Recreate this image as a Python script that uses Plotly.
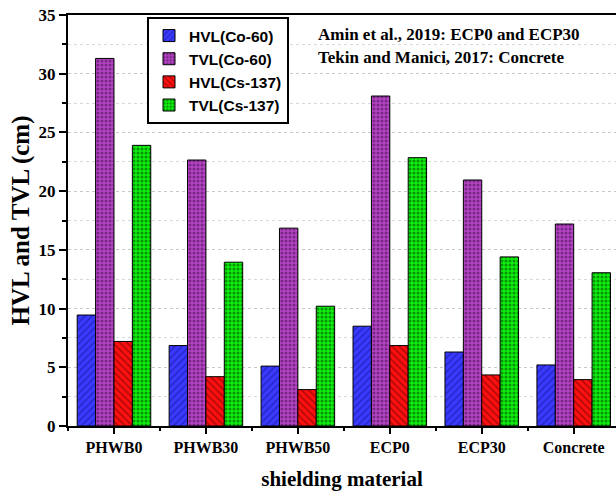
import plotly.graph_objects as go

categories = ["PHWB0", "PHWB30", "PHWB50", "ECP0", "ECP30", "Concrete"]
hvl_co60 = [9.45, 6.85, 5.1, 8.5, 6.3, 5.2]
tvl_co60 = [31.3, 22.65, 16.85, 28.1, 20.95, 17.2]
hvl_cs137 = [7.2, 4.2, 3.1, 6.85, 4.35, 3.95]
tvl_cs137 = [23.9, 13.95, 10.2, 22.85, 14.4, 13.05]
series_names = ["HVL(Co-60)", "TVL(Co-60)", "HVL(Cs-137)", "TVL(Cs-137)"]
y_ticks = [0, 5, 10, 15, 20, 25, 30, 35]

styles = [
    dict(bg="#3a3aff", fg="#12128a", shape="/", size=5, sol=0.3),
    dict(bg="#b444c4", fg="#3c0a44", shape=".", size=4, sol=0.45),
    dict(bg="#ff1010", fg="#5a0000", shape="\\", size=5, sol=0.3),
    dict(bg="#10f010", fg="#003300", shape=".", size=4, sol=0.45),
]

# plot area target: left 68, top 15, bottom 426 (page body margin removed)
W, H = 616, 495
L, T, B = 68, 15, 495 - 426
PW = W - L
PH = H - T - B

xs = list(range(len(categories)))
fig = go.Figure()
for name, vals, st in zip(series_names, [hvl_co60, tvl_co60, hvl_cs137, tvl_cs137], styles):
    fig.add_trace(go.Bar(
        x=xs, y=vals, name=name,
        marker=dict(color=st["bg"], line=dict(color="black", width=1),
                    pattern=dict(shape=st["shape"], fgcolor=st["fg"], bgcolor=st["bg"],
                                 size=st["size"], solidity=st["sol"], fillmode="overlay")),
    ))

fig.update_layout(
    width=W, height=H,
    margin=dict(l=L, r=0, t=T, b=B, autoexpand=False),
    paper_bgcolor="white", plot_bgcolor="white",
    barmode="group", bargap=0.2, bargroupgap=0,
    font=dict(family="Liberation Serif", color="black"),
    showlegend=True,
    legend=dict(x=(147 - 68) / PW, y=1 - (17 - 15) / PH, xanchor="left", yanchor="top",
                bordercolor="black", borderwidth=2, bgcolor="white",
                font=dict(family="Liberation Sans", size=15.5, color="black", weight="bold"),
                tracegroupgap=0, itemwidth=30),
    xaxis=dict(range=[-0.5, 5.46], tickvals=xs, ticktext=categories,
               showline=True, linecolor="black", linewidth=2, mirror=True,
               ticks="outside", ticklen=6, tickwidth=2, tickcolor="black",
               tickfont=dict(family="Liberation Serif", size=16, weight="bold"),
               ticklabeloverflow="allow",
               minor=dict(tickvals=[-0.5, 0.5, 1.5, 2.5, 3.5, 4.5], ticks="outside", ticklen=3, tickwidth=1.5, tickcolor="black"),
               title=dict(text="shielding material", font=dict(family="Liberation Serif", size=21, weight="bold"), standoff=16),
               showgrid=False, zeroline=False),
    yaxis=dict(range=[0, 35], tickvals=y_ticks,
               showline=True, linecolor="black", linewidth=2, mirror=False,
               ticks="outside", ticklen=7, tickwidth=2, tickcolor="black",
               tickfont=dict(family="Liberation Serif", size=17, weight="bold"),
               ticklabeloverflow="allow",
               showgrid=True, gridcolor="#c8c8c8", griddash="dot", gridwidth=1,
               minor=dict(dtick=2.5, tick0=0, ticks="outside", ticklen=4, tickwidth=1.5, tickcolor="black",
                          showgrid=True, gridcolor="#d8d8d8", griddash="dot"),
               title=dict(text="HVL and TVL (cm)", font=dict(family="Liberation Serif", size=25, weight="bold"), standoff=2),
               zeroline=False),
)

fig.add_annotation(xref="paper", yref="paper", x=(316 - 68) / PW, y=1 - (34 - 15) / PH,
                   xanchor="left", yanchor="middle", showarrow=False,
                   text="Amin et al., 2019: ECP0 and ECP30",
                   font=dict(family="Liberation Serif", size=17, color="black", weight="bold"))
fig.add_annotation(xref="paper", yref="paper", x=(316 - 68) / PW, y=1 - (58 - 15) / PH,
                   xanchor="left", yanchor="middle", showarrow=False,
                   text="Tekin and Manici, 2017: Concrete",
                   font=dict(family="Liberation Serif", size=17, color="black", weight="bold"))

fig.write_html("out.html", config={"displayModeBar": False},
               post_script="document.body.style.margin='0px';document.body.style.overflow='hidden';")
